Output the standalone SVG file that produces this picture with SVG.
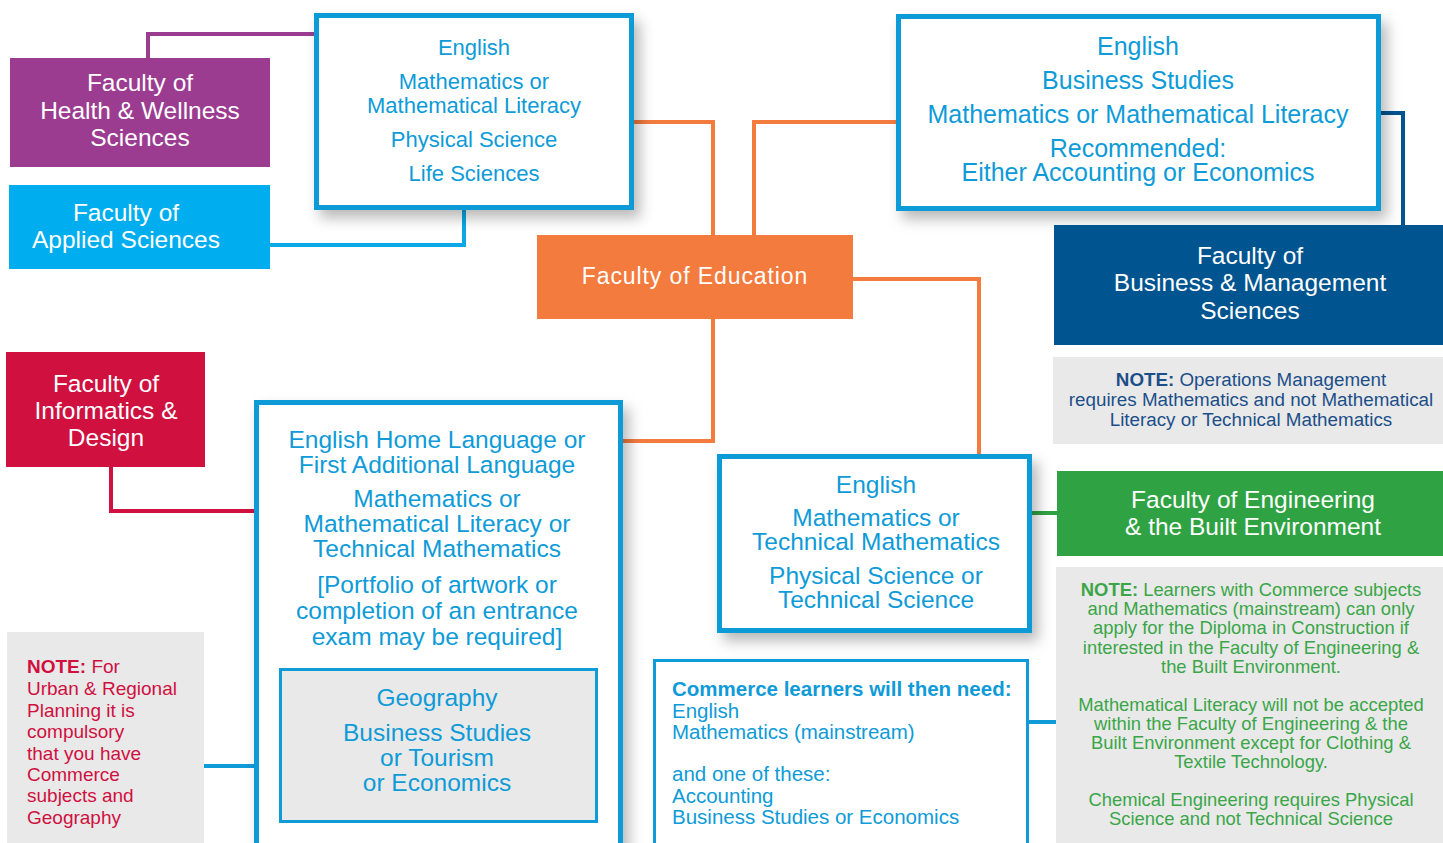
<svg xmlns="http://www.w3.org/2000/svg" width="1443" height="843" viewBox="0 0 1443 843">
<defs>
<filter id="sh" x="-10%" y="-10%" width="130%" height="130%">
<feDropShadow dx="6" dy="8" stdDeviation="7" flood-color="#000" flood-opacity="0.28"/>
</filter>
</defs>
<style>
text{font-family:"Liberation Sans",Arial,Helvetica,sans-serif;}
.req{fill:#fff;stroke:#0e9bd8;stroke-width:5;}
.rt{fill:#0e9bd8;text-anchor:middle;}
.ft{fill:#fff;text-anchor:middle;font-size:24.5px;}
.note{fill:#e9e9e9;}
.ln{fill:none;stroke-width:4;}
</style>
<rect width="1443" height="843" fill="#fff"/>

<g id="connectors">
<path class="ln" d="M148,58 V34 H316" stroke="#9b3c91" stroke-width="3.5"/>
<path class="ln" d="M270,245 H464 V208" stroke="#0aa8e6"/>
<path class="ln" d="M632,122 H713 V235" stroke="#f47b3e"/>
<path class="ln" d="M754,235 V122 H898" stroke="#f47b3e"/>
<path class="ln" d="M853,279 H979 V455" stroke="#f47b3e"/>
<path class="ln" d="M713,319 V441 H621" stroke="#f47b3e"/>
<path class="ln" d="M1379,113 H1403 V226" stroke="#00548f" stroke-width="3"/>
<path class="ln" d="M111,467 V511 H257" stroke="#d0103f"/>
<path class="ln" d="M204,766 H281" stroke="#0e9bd8" stroke-width="3"/>
<path class="ln" d="M1030,513 H1058" stroke="#2fa343"/>
<path class="ln" d="M1028,722 H1057" stroke="#0e9bd8" stroke-width="3"/>
</g>

<g id="health">
<rect x="10" y="58" width="260" height="109" fill="#9b3c91"/>
<text class="ft"><tspan x="140" y="91">Faculty of</tspan><tspan x="140" y="119">Health &amp; Wellness</tspan><tspan x="140" y="146">Sciences</tspan></text>
</g>

<g id="applied">
<rect x="9" y="185" width="261" height="84" fill="#00aeef"/>
<text class="ft"><tspan x="126" y="221">Faculty of</tspan><tspan x="126" y="248">Applied Sciences</tspan></text>
</g>

<g id="req-health">
<rect class="req" x="316.5" y="15.5" width="315" height="192" filter="url(#sh)"/>
<text class="rt" font-size="22"><tspan x="474" y="55">English</tspan><tspan x="474" y="89">Mathematics or</tspan><tspan x="474" y="113">Mathematical Literacy</tspan><tspan x="474" y="147">Physical Science</tspan><tspan x="474" y="181">Life Sciences</tspan></text>
</g>

<g id="education">
<rect x="537" y="235" width="316" height="84" fill="#f47b3e"/>
<text fill="#fff" text-anchor="middle" font-size="23" letter-spacing="0.9" x="695" y="284">Faculty of Education</text>
</g>

<g id="req-business">
<rect class="req" x="898.5" y="16.5" width="480" height="192" filter="url(#sh)"/>
<text class="rt" font-size="25"><tspan x="1138" y="55">English</tspan><tspan x="1138" y="89">Business Studies</tspan><tspan x="1138" y="123">Mathematics or Mathematical Literacy</tspan><tspan x="1138" y="157">Recommended:</tspan><tspan x="1138" y="181">Either Accounting or Economics</tspan></text>
</g>

<g id="business">
<rect x="1054" y="225" width="389" height="120" fill="#00548f"/>
<text class="ft"><tspan x="1250" y="264">Faculty of</tspan><tspan x="1250" y="291">Business &amp; Management</tspan><tspan x="1250" y="319">Sciences</tspan></text>
</g>

<g id="note-business">
<rect class="note" x="1053" y="357" width="390" height="87"/>
<text fill="#1c4f8a" text-anchor="middle" font-size="18.8"><tspan x="1251" y="386"><tspan font-weight="bold">NOTE:</tspan> Operations Management</tspan><tspan x="1251" y="406">requires Mathematics and not Mathematical</tspan><tspan x="1251" y="426">Literacy or Technical Mathematics</tspan></text>
</g>

<g id="informatics">
<rect x="6" y="352" width="199" height="115" fill="#d0103f"/>
<text class="ft"><tspan x="106" y="392">Faculty of</tspan><tspan x="106" y="419">Informatics &amp;</tspan><tspan x="106" y="446">Design</tspan></text>
</g>

<g id="req-informatics">
<rect class="req" x="256.5" y="402.5" width="364" height="470" filter="url(#sh)"/>
<text class="rt" font-size="24.5"><tspan x="437" y="448">English Home Language or</tspan><tspan x="437" y="473">First Additional Language</tspan><tspan x="437" y="507">Mathematics or</tspan><tspan x="437" y="532">Mathematical Literacy or</tspan><tspan x="437" y="557">Technical Mathematics</tspan><tspan x="437" y="593">[Portfolio of artwork or</tspan><tspan x="437" y="619">completion of an entrance</tspan><tspan x="437" y="645">exam may be required]</tspan></text>
</g>

<g id="geography">
<rect x="280.5" y="669.5" width="316" height="152" fill="#e9e9e9" stroke="#0e9bd8" stroke-width="3"/>
<text class="rt" font-size="24.5"><tspan x="437" y="706">Geography</tspan><tspan x="437" y="741">Business Studies</tspan><tspan x="437" y="766">or Tourism</tspan><tspan x="437" y="791">or Economics</tspan></text>
</g>

<g id="note-urban">
<rect class="note" x="7" y="632" width="197" height="211"/>
<text fill="#d0103f" font-size="19"><tspan x="27" y="673"><tspan font-weight="bold">NOTE:</tspan> For</tspan><tspan x="27" y="695">Urban &amp; Regional</tspan><tspan x="27" y="717">Planning it is</tspan><tspan x="27" y="738">compulsory</tspan><tspan x="27" y="760">that you have</tspan><tspan x="27" y="781">Commerce</tspan><tspan x="27" y="802">subjects and</tspan><tspan x="27" y="824">Geography</tspan></text>
</g>

<g id="req-engineering">
<rect class="req" x="719.5" y="456.5" width="310" height="174" filter="url(#sh)"/>
<text class="rt" font-size="24.5"><tspan x="876" y="493">English</tspan><tspan x="876" y="526">Mathematics or</tspan><tspan x="876" y="550">Technical Mathematics</tspan><tspan x="876" y="584">Physical Science or</tspan><tspan x="876" y="608">Technical Science</tspan></text>
</g>

<g id="engineering">
<rect x="1057" y="471" width="386" height="85" fill="#2fa343"/>
<text class="ft"><tspan x="1253" y="508">Faculty of Engineering</tspan><tspan x="1253" y="535">&amp; the Built Environment</tspan></text>
</g>

<g id="note-engineering">
<rect class="note" x="1056" y="567" width="387" height="276"/>
<text fill="#3aa648" text-anchor="middle" font-size="18.4"><tspan x="1251" y="596"><tspan font-weight="bold">NOTE:</tspan> Learners with Commerce subjects</tspan><tspan x="1251" y="615">and Mathematics (mainstream) can only</tspan><tspan x="1251" y="634">apply for the Diploma in Construction if</tspan><tspan x="1251" y="654">interested in the Faculty of Engineering &amp;</tspan><tspan x="1251" y="673">the Built Environment.</tspan><tspan x="1251" y="711">Mathematical Literacy will not be accepted</tspan><tspan x="1251" y="730">within the Faculty of Engineering &amp; the</tspan><tspan x="1251" y="749">Built Environment except for Clothing &amp;</tspan><tspan x="1251" y="768">Textile Technology.</tspan><tspan x="1251" y="806">Chemical Engineering requires Physical</tspan><tspan x="1251" y="825">Science and not Technical Science</tspan></text>
</g>

<g id="commerce">
<rect x="654.5" y="660.5" width="373" height="200" fill="#fff" stroke="#0e9bd8" stroke-width="3"/>
<text fill="#0e9bd8" font-size="20.5"><tspan x="672" y="696" font-weight="bold">Commerce learners will then need:</tspan><tspan x="672" y="718">English</tspan><tspan x="672" y="739">Mathematics (mainstream)</tspan><tspan x="672" y="781">and one of these:</tspan><tspan x="672" y="803">Accounting</tspan><tspan x="672" y="824">Business Studies or Economics</tspan></text>
</g>
</svg>
